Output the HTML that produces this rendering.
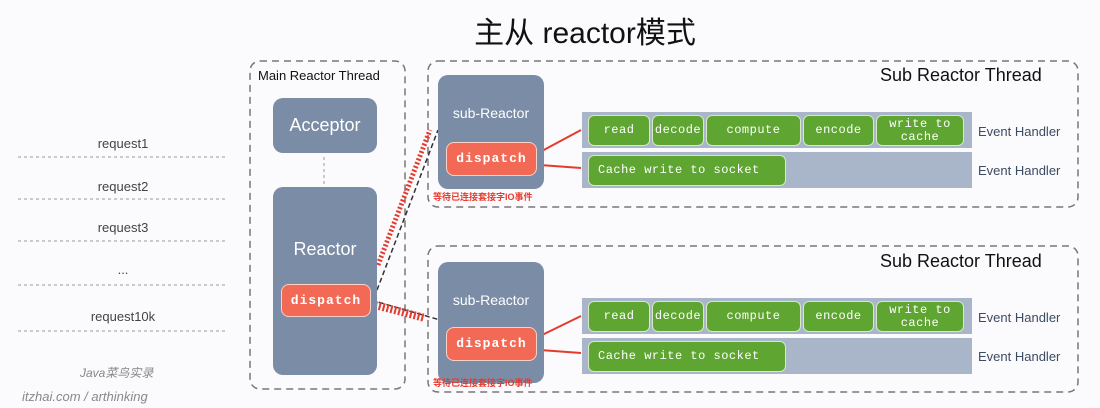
<!DOCTYPE html>
<html><head><meta charset="utf-8"><style>
body{margin:0;width:1100px;height:408px;background:#fbfafc;position:relative;overflow:hidden;font-family:"Liberation Sans","Noto Sans CJK SC",sans-serif}
.a{position:absolute}
.blue{background:#7a8ca6;border-radius:10px;color:#fff;text-align:center}
.disp{background:#f26a55;border:1.5px solid #fbd0c6;border-radius:8px;color:#fff;font-family:"Liberation Mono",monospace;font-weight:bold;font-size:13px;text-align:center;letter-spacing:1px}
.band{background:#a9b5c8}
.g{background:#5fa532;border:1.5px solid #d6e8c8;border-radius:6px;color:#fff;font-family:"Liberation Mono",monospace;font-size:12px;text-align:center;box-sizing:border-box;letter-spacing:0.5px;white-space:nowrap}
.eh{font-size:13px;color:#3d4b63}
.req{font-size:13px;color:#444;width:210px;text-align:center;left:18px}
.red{color:#e53b2f;font-size:9px;font-weight:bold}
</style></head><body>
<div class="a" style="left:0;width:1100px;top:8px;text-align:center;font-size:30px;color:#111;padding-left:70px;box-sizing:border-box">主从 reactor模式</div>
<svg class="a" style="left:0;top:0" width="1100" height="408">
<g fill="none" stroke="#777" stroke-width="1.5" stroke-dasharray="7,5">
<rect x="250" y="61" width="155" height="328" rx="10"/>
<rect x="428" y="61" width="650" height="146" rx="10"/>
<rect x="428" y="246" width="650" height="146" rx="10"/>
</g>
<g stroke="#999" stroke-width="1" stroke-dasharray="3,3">
<line x1="18" y1="157" x2="225" y2="157"/><line x1="18" y1="199" x2="225" y2="199"/>
<line x1="18" y1="241" x2="225" y2="241"/><line x1="18" y1="285" x2="225" y2="285"/>
<line x1="18" y1="331" x2="225" y2="331"/>
<line x1="324" y1="157" x2="324" y2="185"/>
</g>
<g stroke="#333" stroke-width="1.5" stroke-dasharray="5,3" fill="none">
<line x1="377" y1="290" x2="438" y2="130"/>
<line x1="371" y1="300" x2="440" y2="320"/>
</g>
<g stroke="#e53b2f" stroke-width="2" fill="none">
<path d="M378 265 L430 130" stroke-dasharray="2,2" stroke-width="5"/>
<path d="M375 305 L425 318" stroke-dasharray="2,2" stroke-width="8"/>
<line x1="540" y1="152" x2="581" y2="130"/><line x1="540" y1="165" x2="581" y2="168"/>
<line x1="540" y1="336" x2="581" y2="316"/><line x1="540" y1="350" x2="581" y2="353"/>
</g>
</svg>
<div class="a" style="left:258px;top:68px;font-size:13px;color:#111">Main Reactor Thread</div>
<div class="a blue" style="left:273px;top:98px;width:104px;height:55px;line-height:55px;font-size:18px">Acceptor</div>
<div class="a blue" style="left:273px;top:187px;width:104px;height:188px;font-size:18px"><div style="margin-top:52px">Reactor</div></div>
<div class="a disp" style="left:281px;top:284px;width:88px;height:31px;line-height:31px">dispatch</div>
<div class="a req" style="top:136px">request1</div>
<div class="a req" style="top:179px">request2</div>
<div class="a req" style="top:220px">request3</div>
<div class="a req" style="top:262px">...</div>
<div class="a req" style="top:309px">request10k</div>
<div class="a" style="left:80px;top:364px;font-size:12px;color:#888;font-style:italic">Java菜鸟实录</div>
<div class="a" style="left:22px;top:389px;font-size:13px;color:#888;font-style:italic">itzhai.com / arthinking</div>

<!-- sub 1 -->
<div class="a" style="left:880px;top:65px;font-size:18px;color:#111">Sub Reactor Thread</div>
<div class="a blue" style="left:438px;top:75px;width:106px;height:114px;font-size:14px"><div style="margin-top:30px">sub-Reactor</div></div>
<div class="a disp" style="left:446px;top:142px;width:89px;height:32px;line-height:32px">dispatch</div>
<div class="a red" style="left:433px;top:190px">等待已连接套接字IO事件</div>
<div class="a band" style="left:582px;top:112px;width:390px;height:36px"></div>
<div class="a band" style="left:582px;top:152px;width:390px;height:36px"></div>
<div class="a g" style="left:588px;top:115px;width:62px;height:31px;line-height:29px">read</div>
<div class="a g" style="left:652px;top:115px;width:52px;height:31px;line-height:29px">decode</div>
<div class="a g" style="left:706px;top:115px;width:95px;height:31px;line-height:29px">compute</div>
<div class="a g" style="left:803px;top:115px;width:71px;height:31px;line-height:29px">encode</div>
<div class="a g" style="left:876px;top:115px;width:88px;height:31px;line-height:13px;padding-top:2px">write to<br>cache</div>
<div class="a g" style="left:588px;top:155px;width:198px;height:31px;line-height:29px;text-align:left;padding-left:9px">Cache write to socket</div>
<div class="a eh" style="left:978px;top:124px">Event Handler</div>
<div class="a eh" style="left:978px;top:163px">Event Handler</div>

<!-- sub 2 -->
<div class="a" style="left:880px;top:251px;font-size:18px;color:#111">Sub Reactor Thread</div>
<div class="a blue" style="left:438px;top:262px;width:106px;height:121px;font-size:14px"><div style="margin-top:30px">sub-Reactor</div></div>
<div class="a disp" style="left:446px;top:327px;width:89px;height:32px;line-height:32px">dispatch</div>
<div class="a red" style="left:433px;top:376px">等待已连接套接字IO事件</div>
<div class="a band" style="left:582px;top:298px;width:390px;height:36px"></div>
<div class="a band" style="left:582px;top:338px;width:390px;height:36px"></div>
<div class="a g" style="left:588px;top:301px;width:62px;height:31px;line-height:29px">read</div>
<div class="a g" style="left:652px;top:301px;width:52px;height:31px;line-height:29px">decode</div>
<div class="a g" style="left:706px;top:301px;width:95px;height:31px;line-height:29px">compute</div>
<div class="a g" style="left:803px;top:301px;width:71px;height:31px;line-height:29px">encode</div>
<div class="a g" style="left:876px;top:301px;width:88px;height:31px;line-height:13px;padding-top:2px">write to<br>cache</div>
<div class="a g" style="left:588px;top:341px;width:198px;height:31px;line-height:29px;text-align:left;padding-left:9px">Cache write to socket</div>
<div class="a eh" style="left:978px;top:310px">Event Handler</div>
<div class="a eh" style="left:978px;top:349px">Event Handler</div>
</body></html>
